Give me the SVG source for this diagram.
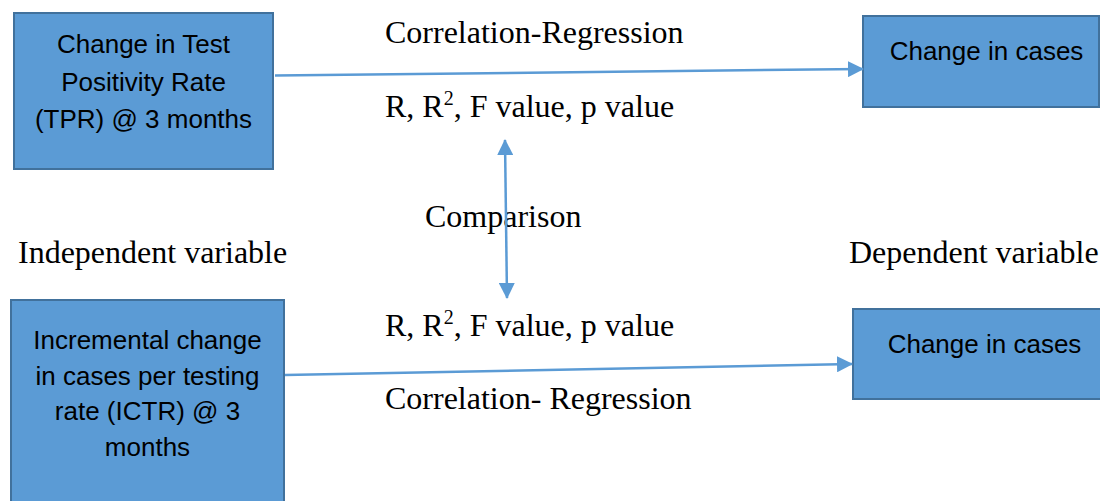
<svg xmlns="http://www.w3.org/2000/svg" width="1100" height="501" viewBox="0 0 1100 501">
<style>
.box{fill:#5B9BD5;stroke:#41719C;stroke-width:2}
.bt{font-family:"Liberation Sans",Arial,sans-serif;font-size:26px;fill:#000;text-anchor:middle}
.lt{font-family:"Liberation Serif","Times New Roman",serif;font-size:32px;fill:#000}
.sup{font-size:20px}
.conn{stroke:#5B9BD5;stroke-width:2.5;fill:none}
</style>
<defs>
<marker id="ah" markerUnits="userSpaceOnUse" markerWidth="16" markerHeight="16" viewBox="0 0 16 16" refX="15" refY="8" orient="auto-start-reverse">
<path d="M0,0 L16,8 L0,16 Z" fill="#5B9BD5"/>
</marker>
</defs>
<rect width="1100" height="501" fill="#fff"/>
<g id="tpr">
<rect class="box" x="14" y="13" width="259" height="156"/>
<text class="bt" x="143.5" y="53">Change in Test</text>
<text class="bt" x="143.5" y="91">Positivity Rate</text>
<text class="bt" x="143.5" y="128">(TPR) @ 3 months</text>
</g>
<g id="cases1">
<rect class="box" x="863" y="16" width="236" height="91"/>
<text class="bt" x="986.5" y="60">Change in cases</text>
</g>
<g id="ictr">
<rect class="box" x="11" y="300" width="273" height="215"/>
<text class="bt" x="147.5" y="349">Incremental change</text>
<text class="bt" x="147.5" y="385">in cases per testing</text>
<text class="bt" x="147.5" y="420">rate (ICTR) @ 3</text>
<text class="bt" x="147.5" y="456">months</text>
</g>
<g id="cases2">
<rect class="box" x="853" y="309" width="250" height="90"/>
<text class="bt" x="984.5" y="353">Change in cases</text>
</g>
<g id="labels">
<text class="lt" x="385" y="43">Correlation-Regression</text>
<text class="lt" x="385" y="117">R, R<tspan class="sup" dy="-12">2</tspan><tspan dy="12">, F value, p value</tspan></text>
<text class="lt" x="425" y="227">Comparison</text>
<text class="lt" x="18" y="263">Independent variable</text>
<text class="lt" x="849" y="263">Dependent variable</text>
<text class="lt" x="385" y="336">R, R<tspan class="sup" dy="-12">2</tspan><tspan dy="12">, F value, p value</tspan></text>
<text class="lt" x="385" y="409">Correlation- Regression</text>
</g>
<g id="connectors">
<line class="conn" x1="275" y1="75.5" x2="863" y2="69" marker-end="url(#ah)"/>
<line class="conn" x1="285" y1="375" x2="852" y2="364" marker-end="url(#ah)"/>
<line class="conn" x1="505" y1="140" x2="507" y2="298" marker-start="url(#ah)" marker-end="url(#ah)"/>
</g>
</svg>
